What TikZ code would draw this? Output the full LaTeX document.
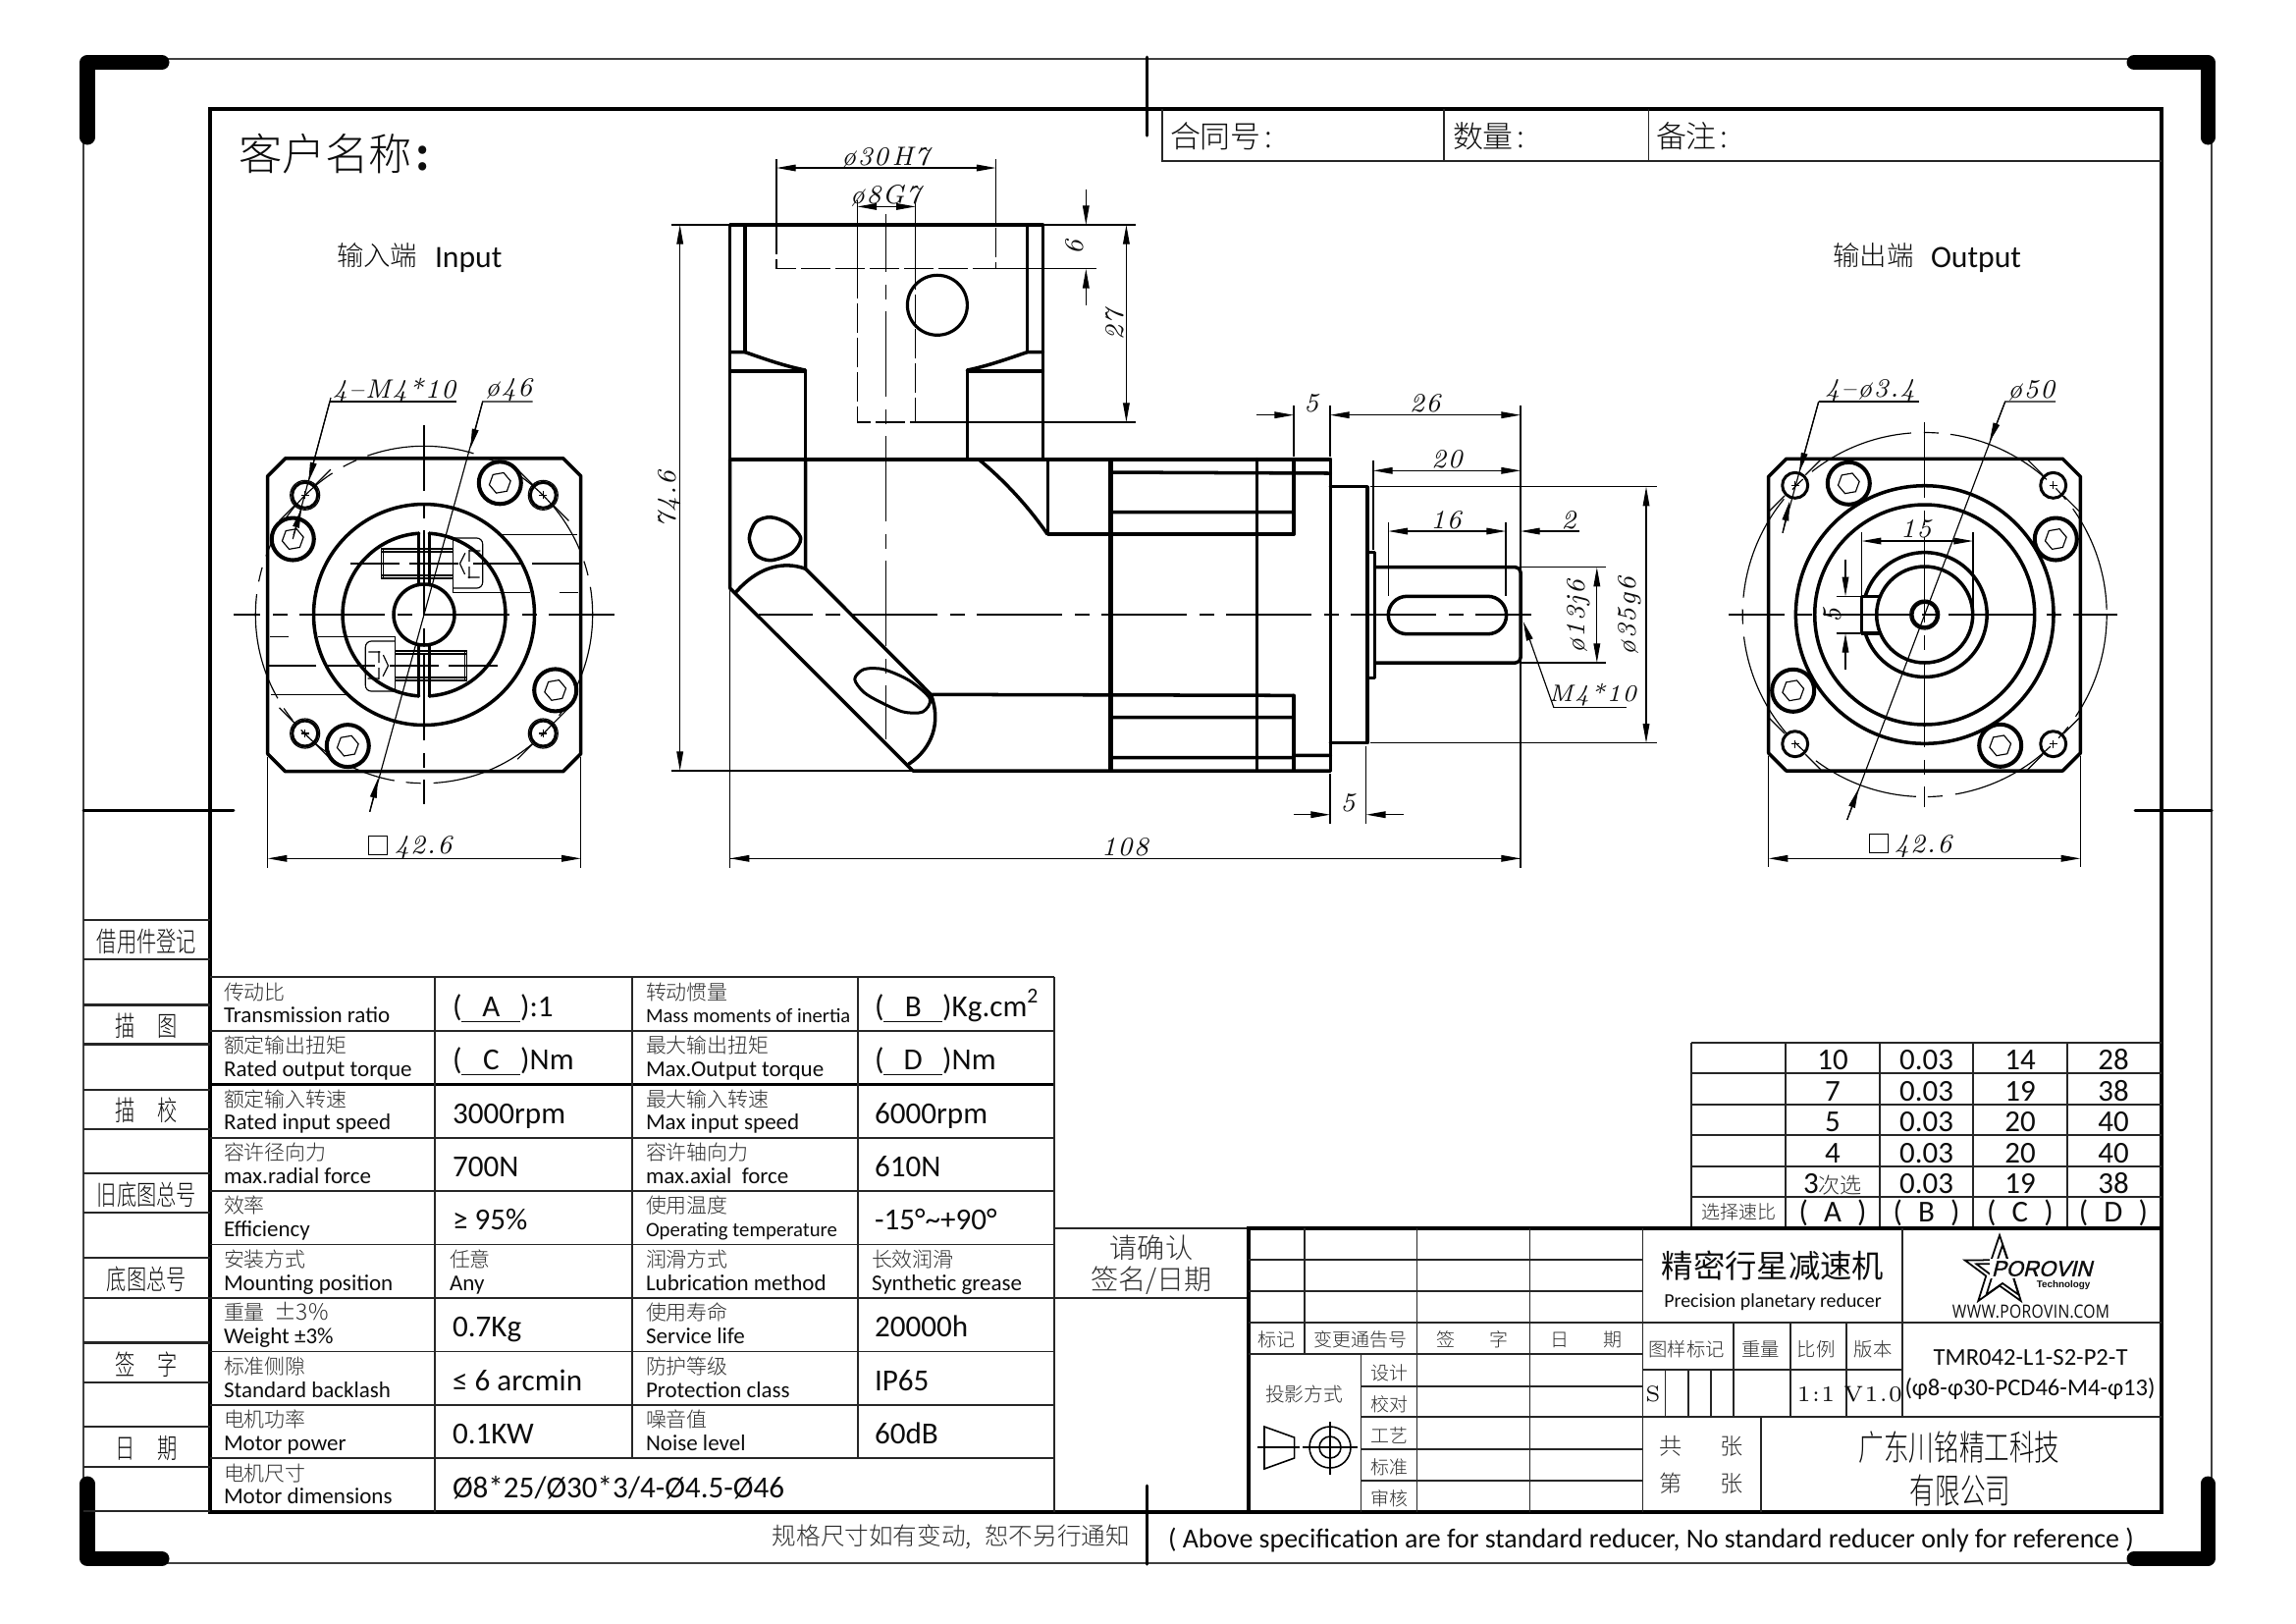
\documentclass[tikz,border=0pt]{standalone}
\usepackage{fontspec}
\usetikzlibrary{arrows.meta,shapes.geometric}
\setmainfont{Carlito}
\newfontfamily\cjk{Noto Sans CJK SC Light}
\newfontfamily\cjkr{Noto Sans CJK SC}
\newfontfamily\cjkn[FakeStretch=0.72]{Noto Sans CJK SC Light}
\newfontfamily\dmf[LetterSpace=6]{Latin Modern Roman}
\newfontfamily\webf[FakeStretch=0.84,LetterSpace=2]{Open Sans}
\newfontfamily\logof[FakeSlant=0.25,FakeBold=1.6]{Liberation Sans}
\newcommand\sz[1]{\fontsize{#1pt}{#1pt}\selectfont}
\definecolor{ink}{gray}{0.05}
\definecolor{cng}{gray}{0.18}
\newcount\nn
\tikzset{
  txt/.style={inner sep=0pt,outer sep=0pt,text=ink},
  bd/.style={line width=1pt,line cap=round,line join=round,black},
  bdx/.style={line width=1.35pt,black},
  th/.style={line width=.33pt,black},
  fr/.style={line width=.45pt,black!75},
  tb/.style={line width=.5pt,black!85},
  ctr/.style={line width=.33pt,black,dash pattern=on .87cm off .13cm on .15cm off .12cm},
  hid/.style={line width=.38pt,black,dash pattern=on .3cm off .05cm},
  dd/.style={line width=.33pt,black,{Triangle[length=5.6pt,width=1.9pt]}-{Triangle[length=5.6pt,width=1.9pt]}},
  de/.style={line width=.33pt,black,-{Triangle[length=5.6pt,width=1.9pt]}},
  corner/.style={line width=4.27pt,line cap=round,line join=round,black},
}
\newcommand\T[4][]{\global\advance\nn by 1 \node[txt,name=t\the\nn,#1] at (#2,#3) {#4};}
% dimension text
\newcommand\D[4][]{\T[#1]{#2}{#3+1.5}{\dmf\itshape\sz{7.7}#4}}
% table label (Chinese above, English below)
\newcommand\LB[5][6.55]{\T[anchor=base west]{#2}{#3+23}{\cjk\color{cng}\sz{5.95}#4}\T[anchor=base west]{#2}{#3+46.5}{\sz{#1}#5}}
\newcommand\VL[3]{\T[anchor=base west]{#1}{#2+40}{\sz{8.85}#3}}
\newcommand\U[1]{\underline{\makebox[17pt]{#1}}}
% right tables
\newcommand\RT[2]{\T[anchor=base]{1867}{#1+1.5}{\sz{8.8}#2}}
\newcommand\RTR[4]{\T[anchor=base]{1962.5}{#1+1.5}{\sz{8.8}#2}\T[anchor=base]{2058}{#1+1.5}{\sz{8.8}#3}\T[anchor=base]{2153}{#1+1.5}{\sz{8.8}#4}}
\newcommand\CN[4][5.6]{\T{#2}{#3+2}{\cjk\color{cng}\sz{#1}#4}}
% fasteners
\newcommand\hexa[4]{\draw[th,shift={(#1,#2)},rotate=#4] (0:#3)--(60:#3)--(120:#3)--(180:#3)--(240:#3)--(300:#3)--cycle;}
\newcommand\bigscrew[3]{\draw[bd,line width=1.15pt,fill=white] (#1,#2) circle[radius=21.5];\hexa{#1}{#2}{11}{#3}}
\newcommand\hole[4]{\draw[bd,line width=.85pt] (#1,#2) circle[radius=13];\ifnum#4=1 \draw[th] (#1,#2) circle[radius=15];\fi
  \draw[th,shift={(#1,#2)},rotate=#3] (15,0)--(37,0) (-15,0)--(-37,0);
  \draw[th,shift={(#1,#2)}] (-4,0)--(4,0) (0,-4)--(0,4);}
\newcommand\chsq[4]{\draw[bd] (#1+18,#3)--(#2-18,#3)--(#2,#3+18)--(#2,#4-18)--(#2-18,#4)--(#1+18,#4)--(#1,#4-18)--(#1,#3+18)--cycle;}
\newcommand\clampscrew{%
  \draw[th] (388.3,559)--(461.7,559) (388.3,562)--(461.7,562) (388.3,586)--(461.7,586) (388.3,589)--(461.7,589);
  \draw[th] (388.3,559)--(388.3,589) (390.5,559)--(390.5,589);
  \draw[th,rounded corners=.06cm] (461.7,548)--(491.7,548)--(491.7,599)--(461.7,599);
  \draw[th] (461.7,548)--(461.7,603.6);
  \draw[th,dash pattern=on .12cm off .05cm] (468.5,574)--(475,561)--(491,561) (468.5,574)--(475,588)--(491,588) (478,560)--(478,589);
  \draw[th,dash pattern=on .78cm off .3cm] (461.7,603.6)--(589.3,603.6);
  \draw[th,dash pattern=on .78cm off .3cm] (510,544.3)--(589.3,544.3);
  \draw[th,dash pattern=on .5cm off .1cm on .5cm off .15cm] (356.7,574)--(601.7,574);
}
\begin{document}
\begin{tikzpicture}[x=.01cm,y=-.01cm]
\useasboundingbox (0,0) rectangle (2339,1653);
\fill[white] (0,0) rectangle (2339,1653);
% ---- outer frame
\draw[fr] (85,60) rectangle (2253,1592);
\draw[corner] (89,140)--(89,63.5)--(165,63.5);
\draw[corner] (2174,63.5)--(2249,63.5)--(2249,140);
\draw[corner] (89,1511)--(89,1587.5)--(165,1587.5);
\draw[corner] (2174,1587.5)--(2249,1587.5)--(2249,1511);
\draw[line width=.85pt,line cap=round] (1168,58)--(1168,138) (1168,1513)--(1168,1593);
\draw[line width=.85pt,line cap=round] (85,825)--(238,825) (2175,825)--(2253,825);
% ---- inner frame
\draw[line width=1.15pt] (214,111) rectangle (2202,1540);
\draw[tb] (1184,111)--(1184,163.7)--(2202,163.7) (1471,111)--(1471,163.7) (1679.4,111)--(1679.4,163.7);
\T[anchor=west]{243}{157}{\cjk\sz{12.6}客户名称\hspace{1pt}\bfseries:}
\T[anchor=west]{343}{260}{\cjk\sz{7.8}输入端}
\T[anchor=base west]{443}{272}{\sz{9}Input}
\T[anchor=west]{1867.5}{260}{\cjk\sz{7.8}输出端}
\T[anchor=base west]{1967}{272}{\sz{9}Output}
\T[anchor=west]{1192}{139}{\cjk\sz{8.8}合同号\hspace{1pt}:}
\T[anchor=west]{1480}{139}{\cjk\sz{8.8}数量\hspace{1pt}:}
\T[anchor=west]{1687}{139}{\cjk\sz{8.8}备注\hspace{1pt}:}
% ---- left register column
\draw[tb,line width=.6pt] (85,937)--(214,937) (85,977)--(214,977) (85,1023.5)--(214,1023.5) (85,1063.5)--(214,1063.5)
 (85,1109.6)--(214,1109.6) (85,1149.6)--(214,1149.6) (85,1195)--(214,1195) (85,1235)--(214,1235)
 (85,1281.4)--(214,1281.4) (85,1322)--(214,1322) (85,1367.5)--(214,1367.5) (85,1408)--(214,1408)
 (85,1453)--(214,1453) (85,1493.7)--(214,1493.7) (85,1539.4)--(214,1539.4);
\T{149.5}{959}{\cjkn\sz{8}借用件登记}
\T{149.5}{1045}{\cjkn\sz{8}描\hspace{6.5pt}图}
\T{149.5}{1131}{\cjkn\sz{8}描\hspace{6.5pt}校}
\T{149.5}{1217}{\cjkn\sz{8}旧底图总号}
\T{149.5}{1303}{\cjkn\sz{8}底图总号}
\T{149.5}{1390}{\cjkn\sz{8}签\hspace{6.5pt}字}
\T{149.5}{1475}{\cjkn\sz{8}日\hspace{6.5pt}期}
% ---- spec table
\draw[tb] (214,995.3)--(1074,995.3) (214,1049.6)--(1074,1049.6) (214,1158.6)--(1074,1158.6) (214,1212.9)--(1074,1212.9)
 (214,1267.5)--(1074,1267.5) (214,1321.8)--(1074,1321.8) (214,1376.5)--(1074,1376.5) (214,1430.8)--(1074,1430.8) (214,1485)--(1074,1485);
\draw[line width=.75pt] (214,1104.3)--(1074,1104.3);
\draw[tb] (443,995.3)--(443,1540) (644,995.3)--(644,1485) (874,995.3)--(874,1485) (1074,995.3)--(1074,1540);
\LB{228}{995.3}{传动比}{Transmission ratio}
\LB{228}{1049.6}{额定输出扭矩}{Rated output torque}
\LB{228}{1104.3}{额定输入转速}{Rated input speed}
\LB{228}{1158.6}{容许径向力}{max.radial force}
\LB{228}{1212.9}{效率}{Efficiency}
\LB{228}{1267.5}{安装方式}{Mounting position}
\LB{228}{1321.8}{重量\ \ \sz{6.5}±3\%}{Weight ±3\%}
\LB{228}{1376.5}{标准侧隙}{Standard backlash}
\LB{228}{1430.8}{电机功率}{Motor power}
\LB{228}{1485}{电机尺寸}{Motor dimensions}
\LB[5.85]{658}{995.3}{转动惯量}{Mass moments of inertia}
\LB{658}{1049.6}{最大输出扭矩}{Max.Output torque}
\LB{658}{1104.3}{最大输入转速}{Max input speed}
\LB{658}{1158.6}{容许轴向力}{max.axial\ \ force}
\LB[5.9]{658}{1212.9}{使用温度}{Operating temperature}
\LB{658}{1267.5}{润滑方式}{Lubrication method}
\LB{658}{1321.8}{使用寿命}{Service life}
\LB{658}{1376.5}{防护等级}{Protection class}
\LB{658}{1430.8}{噪音值}{Noise level}
\VL{461}{995.3}{(\U{A}):1}
\VL{461}{1049.6}{(\U{C})Nm}
\VL{461}{1104.3}{3000rpm}
\VL{461}{1158.6}{700N}
\VL{461}{1212.9}{≥ 95\%}
\LB{458}{1267.5}{任意}{Any}
\VL{461}{1321.8}{0.7Kg}
\VL{461}{1376.5}{≤ 6 arcmin}
\VL{461}{1430.8}{0.1KW}
\VL{461}{1485}{Ø8*25/Ø30*3/4-Ø4.5-Ø46}
\VL{891}{995.3}{(\U{B})Kg.cm\textsuperscript{2}}
\VL{891}{1049.6}{(\U{D})Nm}
\VL{891}{1104.3}{6000rpm}
\VL{891}{1158.6}{610N}
\VL{891}{1212.9}{-15°\textasciitilde+90°}
\LB{888}{1267.5}{长效润滑}{Synthetic grease}
\VL{891}{1321.8}{20000h}
\VL{891}{1376.5}{IP65}
\VL{891}{1430.8}{60dB}
% ---- sign-off
\draw[tb] (1074,1251)--(1272,1251) (1074,1322)--(1272,1322);
\CN[8]{1173}{1269}{请确认}
\CN[8]{1173}{1302}{签名/日期}
% ---- speed table
\draw[tb] (1723,1061.7)--(2202,1061.7) (1723,1092.7)--(2202,1092.7) (1723,1124.7)--(2202,1124.7) (1723,1156.3)--(2202,1156.3) (1723,1188)--(2202,1188) (1723,1219.3)--(2202,1219.3);
\draw[tb] (1723,1061.7)--(1723,1251) (1819,1061.7)--(1819,1251) (1915,1061.7)--(1915,1251) (2010,1061.7)--(2010,1251) (2106,1061.7)--(2106,1251);
\RT{1088.3}{10}\RTR{1088.3}{0.03}{14}{28}
\RT{1120}{7}\RTR{1120}{0.03}{19}{38}
\RT{1151}{5}\RTR{1151}{0.03}{20}{40}
\RT{1182.7}{4}\RTR{1182.7}{0.03}{20}{40}
\RT{1214}{3{\cjk\color{cng}\sz{6.3}次选}}\RTR{1214}{0.03}{19}{38}
\CN[5.4]{1771}{1232}{选择速比}
\newcommand\PR[1]{(\hspace{4.6pt}#1\hspace{4.6pt})}
\RT{1243}{\PR{A}}\RTR{1243}{\PR{B}}{\PR{C}}{\PR{D}}
% ---- title block
\draw[line width=1.15pt] (1272,1251) rectangle (2202,1540);
\draw[tb] (1272,1282.7)--(1673.6,1282.7) (1272,1315)--(1673.6,1315) (1272,1347.3)--(2202,1347.3) (1272,1379.3)--(1673.6,1379.3)
 (1386.4,1411.7)--(1673.6,1411.7) (1386.4,1443.3)--(2202,1443.3) (1386.4,1475.7)--(1673.6,1475.7) (1386.4,1507.7)--(1673.6,1507.7)
 (1673.6,1395.3)--(1938,1395.3);
\draw[tb] (1329,1251)--(1329,1379.3) (1386.4,1379.3)--(1386.4,1540) (1443.6,1251)--(1443.6,1540) (1558.6,1251)--(1558.6,1540) (1673.6,1251)--(1673.6,1540)
 (1938,1251)--(1938,1443.3) (1765.7,1347.3)--(1765.7,1443.3) (1823.6,1347.3)--(1823.6,1443.3) (1880.7,1347.3)--(1880.7,1443.3)
 (1696.4,1395.3)--(1696.4,1443.3) (1720,1395.3)--(1720,1443.3) (1742.9,1395.3)--(1742.9,1443.3) (1794,1443.3)--(1794,1540);
\T{1806}{1289}{\cjkr\sz{9.2}精密行星减速机}
\T{1806}{1326}{\sz{5.65}Precision planetary reducer}
\CN[5.4]{1300}{1362}{标记}
\CN[5.4]{1386}{1362}{变更通告号}
\CN[5.4]{1500}{1362}{签\hspace{10pt}字}
\CN[5.4]{1616}{1362}{日\hspace{10pt}期}
\CN[5.6]{1328.6}{1418}{投影方式}
\CN[5.4]{1415}{1396}{设计}
\CN[5.4]{1415}{1428}{校对}
\CN[5.4]{1415}{1460}{工艺}
\CN[5.4]{1415}{1492}{标准}
\CN[5.4]{1415}{1524}{审核}
\CN[5.5]{1718}{1372}{图样标记}
\CN[5.5]{1793.6}{1372}{重量}
\CN[5.5]{1850}{1372}{比例}
\CN[5.5]{1908}{1372}{版本}
\T{1684}{1420}{\dmf\sz{6.4}S}
\T{1850}{1420}{\dmf\sz{6.4}1:1}
\T{1908}{1420}{\dmf\sz{6.4}V1.0}
\T{2068.6}{1382.5}{\sz{7}TMR042-L1-S2-P2-T}
\T{2068}{1414.5}{\sz{7}(φ8-φ30-PCD46-M4-φ13)}
\CN[6.6]{1702}{1471}{共}\CN[6.6]{1764}{1471}{张}
\CN[6.6]{1702}{1509}{第}\CN[6.6]{1764}{1509}{张}
\T{1996}{1474}{\cjkn\sz{10.1}广东川铭精工科技}
\T{1997}{1518}{\cjkn\sz{10.1}有限公司}
% projection symbol
\draw[th,line width=.45pt] (1288,1453)--(1288,1496)--(1318.6,1485)--(1318.6,1464)--cycle;
\draw[th,line width=.45pt] (1281,1474)--(1323.6,1474);
\draw[th,line width=.45pt] (1355,1474) circle[radius=21] (1355,1474) circle[radius=11];
\draw[th] (1327,1474)--(1383,1474) (1355,1448)--(1355,1502);
% logo
\node[name=starB,star,star points=5,star point ratio=2.55,draw,line width=.5pt,minimum size=.74cm,inner sep=0pt] at (2037,1295) {};
\node[name=starA,star,star points=5,star point ratio=2.55,draw,line width=.5pt,minimum size=.56cm,inner sep=0pt] at (2040,1296) {};
\T[fill=white,inner sep=.6pt]{2080}{1292}{\logof\sz{6.3}POROVIN}
\T{2102}{1308.5}{\fontspec{Liberation Sans}\bfseries\sz{2.8}Technology}
\T{2069}{1336}{\webf\sz{5.3}WWW.POROVIN.COM}
% footer
\T[anchor=base east]{1151}{1573}{\cjk\color{cng}\sz{7}规格尺寸如有变动,\hspace{3.8pt}恕不另行通知}
\T[anchor=base west]{1190}{1576}{\sz{7.94}( Above specification are for standard reducer, No standard reducer only for reference )}
% ==== LEFT VIEW
\draw[th,dash pattern=on 1.1cm off .13cm on .15cm off .12cm] (432,626) circle[radius=171.7];
\chsq{272.7}{591.7}{466.8}{785.7}
\draw[bd] (432,626) circle[radius=112.5];
\draw[bd] (432,626) circle[radius=31];
\draw[bd] (426.7,543.2) arc[start angle=266.3,delta angle=-172.6,radius=83];
\draw[bd] (437.3,543.2) arc[start angle=-86.3,delta angle=172.6,radius=83];
\draw[bd] (426.7,543.2)--(426.7,595.5) (437.3,543.2)--(437.3,595.5) (426.7,656.5)--(426.7,708.8) (437.3,656.5)--(437.3,708.8);
\clampscrew
\begin{scope}[rotate around={180:(432,626)}]\clampscrew\end{scope}
\hole{310.7}{504.3}{45}{1}\hole{553.3}{504.3}{-45}{1}\hole{310.7}{747}{-45}{1}\hole{553.3}{747}{45}{1}
\bigscrew{509.3}{491.8}{10}\bigscrew{298.3}{549}{10}\bigscrew{565.7}{702.9}{10}\bigscrew{354.3}{759.6}{10}
\draw[ctr,dash phase=.6cm] (238.3,626)--(625.7,626);
\draw[ctr,dash phase=.2cm] (432,432.9)--(432,818.6);
\draw[th] (336,409)--(465,409);
\draw[th] (336,409)--(298.3,549);
\draw[de] (337,405)--(314.3,490.5);
\draw[de] (299,545)--(307.2,518);
\draw[th] (542.7,409)--(491.7,409)--(376.7,826.8);
\draw[de] (491.7,409)--(479.3,456.4);
\draw[de] (376.7,826.8)--(385,793);
\draw[dd] (272.7,874.3)--(591.7,874.3);
\draw[th] (272.7,771)--(272.7,884) (591.7,771)--(591.7,884);
\draw[th] (375.7,851.8) rectangle (394.3,870.7);
\D[anchor=west]{402}{861.4}{42.6}
\D{401.7}{396.4}{4–M4*10}
\D{518.3}{395.7}{ø46}
% ==== MAIN VIEW
\draw[bd] (743.7,468)--(743.7,229)--(1062.4,229)--(1062.4,468);
\draw[bd] (759,229)--(759,358.6) (1046.6,229)--(1046.6,358.6);
\draw[bd] (743.7,358.6)--(759,358.6) .. controls (780,366) and (800,373) .. (820.5,377);
\draw[bd] (1062.4,358.6)--(1046.6,358.6) .. controls (1025,366) and (1005,373) .. (985.3,377);
\draw[bd] (743.7,377.8)--(820.5,377.8)--(820.5,468) (1062.4,377.8)--(985.3,377.8)--(985.3,468);
\draw[bd] (743.7,468)--(1355.3,468);
\draw[bd] (743.7,468)--(743.7,599)--(930,785)--(1355.3,785);
\draw[bd] (820.7,468)--(820.7,579.3)--(948.3,707.3)--(1318,708.3);
\draw[bd] (750,602.7) .. controls (770,580) and (795,570) .. (820.7,579.3);
\draw[bd] (948.3,707.3) .. controls (959,735) and (950,762) .. (926,778);
\draw[bd,smooth cycle] plot coordinates {(763.3,548.3) (770,531.7) (785,526.7) (803.3,533.3) (815.7,548.3) (806.7,563.3) (785,570.7) (770,565)};
\draw[bd,line width=.85pt] plot[smooth cycle] coordinates {(870.7,691.7) (880,681.7) (900,681.7) (926.7,693.3) (947.3,711.7) (940,725) (920,725) (896.7,715) (880,705)};
\draw[bd] (997.3,468) .. controls (1020,487) and (1045,512) .. (1067,544);
\draw[bd] (1067.7,468)--(1067.7,544)--(1318,544);
\draw[bdx] (1131.7,467.5)--(1131.7,785);
\draw[bd] (1280.7,467.5)--(1280.7,785) (1318,467.5)--(1318,544) (1318,708.3)--(1318,785) (1355.3,467.5)--(1355.3,785);
\draw[bd] (1131.7,481)--(1355.3,482) (1131.7,521.7)--(1318,521.7) (1131.7,730.7)--(1318,730.7) (1131.7,771.7)--(1318,771.7) (1318,769.3)--(1355.3,769.3);
\draw[bd] (1355.3,495.7)--(1392.9,495.7)--(1392.9,756.7)--(1355.3,756.7);
\draw[bd] (1392.9,562.3)--(1400.7,562.3)--(1400.7,690.7)--(1392.9,690.7);
\draw[bd,rounded corners=.05cm] (1400.7,577.7)--(1549,577.7)--(1549,675)--(1400.7,675);
\draw[bd,rounded corners=.19cm] (1414.3,607.3) rectangle (1534.6,645.7);
\draw[bd,line width=.9pt] (954.9,310.8) circle[radius=30.5];
\draw[hid] (791,229)--(791,273.8)--(1014.6,273.8)--(1014.6,229);
\draw[hid] (873.4,273.8)--(873.4,430)--(932.7,430)--(932.7,273.8);
\draw[ctr,dash phase=.32cm] (773,626)--(1560,626);
\draw[ctr,dash phase=.28cm] (902.7,218)--(902.7,753);
% dims main
\draw[dd] (791,171)--(1014.6,171);
\draw[th] (791,162)--(791,229) (1014.6,162)--(1014.6,229);
\draw[dd] (873.4,210.4)--(932.7,210.4);
\draw[th] (873.4,203.6)--(873.4,273.8) (932.7,203.6)--(932.7,273.8);
\D{902}{159}{ø30\hspace{1pt}H7}
\D{902}{198}{ø8G7}
\draw[th] (1062.4,229)--(1157,229) (1014.6,273.8)--(1116.6,273.8) (932.7,430)--(1157,430);
\draw[de] (1106.3,192.5)--(1106.3,229);
\draw[de] (1106.3,310.8)--(1106.3,273.8);
\D[rotate=90]{1094.4}{250.5}{6}
\draw[dd] (1147.4,229)--(1147.4,430);
\D[rotate=90]{1135.4}{329.6}{27}
\draw[dd] (692.7,229)--(692.7,785);
\draw[th] (683.6,229)--(743.7,229) (683.6,785)--(930,785);
\D[rotate=90]{681.7}{507}{74.6}
\draw[th] (743.7,599)--(743.7,884) (1549,413)--(1549,884);
\draw[th] (1318,413)--(1318,465) (1355,413)--(1355,465);
\draw[de] (1280,422.7)--(1318,422.7);
\draw[dd] (1355,422.7)--(1549,422.7);
\D{1335.7}{409}{5}
\D{1451.8}{409}{26}
\draw[dd] (1399,479.3)--(1549,479.3);
\draw[th] (1399,469)--(1399,560);
\D{1474}{466}{20}
\draw[th] (1396,495.7)--(1687.5,495.7) (1396,756.7)--(1687.5,756.7);
\draw[dd] (1677,495.7)--(1677,756.7);
\D[rotate=90]{1660.5}{626}{ø35g6}
\draw[th] (1549,577.7)--(1636.4,577.7) (1549,675)--(1636.4,675);
\draw[dd] (1626.8,577.7)--(1626.8,675);
\D[rotate=90]{1608.5}{626.7}{ø13j6}
\draw[dd] (1414.3,541)--(1534,541);
\draw[th] (1414.3,531.7)--(1414.3,606.7) (1534,531.7)--(1534,606.7);
\D{1473}{528}{16}
\draw[de] (1609,541)--(1549,541);
\D{1598}{528}{2}
\draw[de] (1582.9,720.7)--(1551.8,633);
\draw[th] (1582.9,720.7)--(1657,720.7);
\D{1622.5}{706.7}{\sz{6.9}M4*10}
\draw[th] (1355,788)--(1355,839) (1391.8,760)--(1391.8,839);
\draw[de] (1317.9,829.7)--(1355,829.7);
\draw[de] (1429.6,829.7)--(1391.8,829.7);
\D{1373}{816.7}{5}
\draw[th] (743.7,874.3)--(1549,874.3);
\draw[de] (1500,874.3)--(1549,874.3);
\draw[-{Triangle[length=5.6pt,width=1.9pt]},line width=.33pt] (790,874.3)--(743.7,874.3);
\D{1146}{861}{108}
% ==== RIGHT VIEW
\draw[th,dash pattern=on 1.1cm off .13cm on .15cm off .12cm] (1960.7,626) circle[radius=185.5];
\chsq{1801.7}{2119.3}{467.3}{785}
\draw[bd] (1960.7,626) circle[radius=131.3];
\draw[bd] (1960.7,626) circle[radius=112];
\draw[bd] (1960.7,626) circle[radius=49];
\draw[bd] (1900.2,607.3) arc[start angle=197.2,delta angle=325.6,radius=63.4];
\draw[bd] (1915.5,607.3)--(1896.7,607.3)--(1896.7,645)--(1915.5,645);
\draw[bd] (1960.7,626) circle[radius=13];
\draw[th] (1960.7,626) circle[radius=15];
\hole{1828.7}{494.3}{45}{0}\hole{2091.7}{494.3}{-45}{0}\hole{1828.7}{757.7}{-45}{0}\hole{2091.7}{757.7}{45}{0}
\bigscrew{1883.3}{492.3}{10}\bigscrew{2094.3}{549}{10}\bigscrew{1826.7}{703.3}{10}\bigscrew{2037.7}{759.3}{10}
\draw[ctr,dash phase=.3cm] (1761,626)--(2156.7,626);
\draw[ctr,dash phase=.1cm] (1960.7,430)--(1960.7,821.7);
\draw[th] (1852.7,409)--(1955,409);
\draw[th] (1852.7,409)--(1816,542.7);
\draw[de] (1852.7,409)--(1833,480.7);
\draw[de] (1816,542.7)--(1823,510.7);
\draw[th] (2094,409)--(2042.7,409)--(1881.7,835);
\draw[de] (2042.7,409)--(2026.7,450);
\draw[de] (1881.7,835)--(1893.3,803.3);
\D{1905}{396.7}{4–ø3.4}
\D{2069.3}{396}{ø50}
\draw[dd] (1896.7,551)--(2010,551);
\draw[th] (1896.7,541.7)--(1896.7,606.7) (2010,541.7)--(2010,626);
\D{1951.7}{537.7}{15}
\draw[th] (1870.7,607.3)--(1895,607.3) (1870.7,645)--(1895,645);
\draw[de] (1880,570)--(1880,607.3);
\draw[de] (1880,681.7)--(1880,645);
\D[rotate=90]{1866.5}{626}{5}
\draw[dd] (1801.7,874.3)--(2119.3,874.3);
\draw[th] (1801.7,770)--(1801.7,883) (2119.3,770)--(2119.3,883);
\draw[th] (1904.3,849.3) rectangle (1923.3,868.3);
\D[anchor=west]{1930}{861}{42.6}
\end{tikzpicture}
\end{document}
